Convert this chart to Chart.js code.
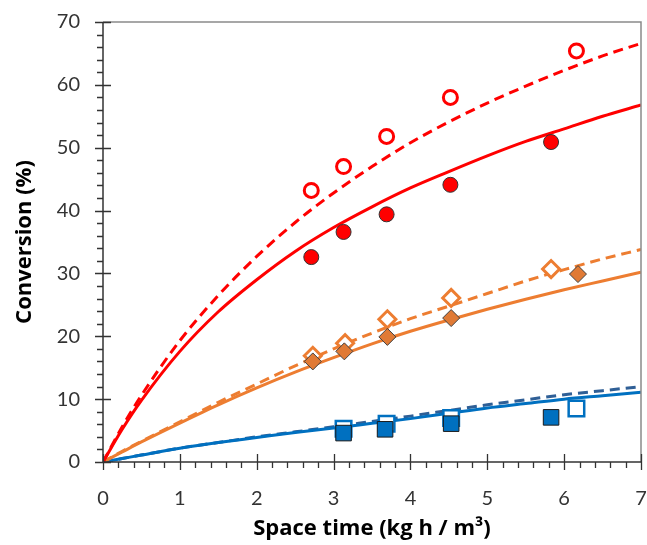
<!DOCTYPE html>
<html><head><meta charset="utf-8">
<script src="https://cdn.jsdelivr.net/npm/chart.js@4/dist/chart.umd.min.js"></script>
<style>html,body{margin:0;padding:0;background:#fff}canvas{display:block}</style>
</head><body>
<canvas id="c" width="647" height="545"></canvas>
<script>
// ---- Data ----
const xTicks = [0, 1, 2, 3, 4, 5, 6, 7];
const yTicks = [0, 10, 20, 30, 40, 50, 60, 70];

// Experimental points
const redFilledX = [2.71, 3.13, 3.69, 4.52, 5.83];
const redFilledY = [32.6, 36.6, 39.4, 44.1, 50.9];
const redOpenX = [2.71, 3.13, 3.69, 4.52, 6.16];
const redOpenY = [43.2, 47.0, 51.8, 58.0, 65.4];
const orangeFilledX = [2.73, 3.14, 3.70, 4.53, 6.18];
const orangeFilledY = [16.0, 17.6, 19.9, 22.9, 29.9];
const orangeOpenX = [2.73, 3.15, 3.70, 4.53, 5.83];
const orangeOpenY = [16.9, 18.9, 22.7, 26.1, 30.7];
const blueFilledX = [3.13, 3.67, 4.53, 5.83];
const blueFilledY = [4.6, 5.2, 6.1, 7.1];
const blueOpenX = [3.13, 3.69, 4.53, 6.16];
const blueOpenY = [5.3, 6.1, 7.0, 8.5];

// Model curves
const modelX = [0, 0.25, 0.5, 1, 1.5, 2, 2.5, 3, 3.5, 4, 4.5, 5, 5.5, 6, 6.5, 7];
const redSolidY = [0, 5.2, 9.8, 17.6, 23.9, 29.0, 33.5, 37.3, 40.6, 43.6, 46.2, 48.7, 51.0, 53.0, 55.0, 56.8];
const redDashY  = [0, 5.6, 10.6, 19.3, 26.5, 32.7, 38.1, 42.8, 47.0, 50.8, 54.1, 57.1, 59.8, 62.3, 64.6, 66.6];
const orangeSolidY = [0, 1.6, 3.2, 6.2, 9.1, 11.8, 14.3, 16.6, 18.8, 20.8, 22.6, 24.3, 25.9, 27.4, 28.8, 30.2];
const orangeDashY  = [0, 1.7, 3.3, 6.4, 9.5, 12.4, 15.3, 18.0, 20.5, 22.8, 24.8, 26.8, 28.8, 30.6, 32.3, 33.8];
const blueSolidY = [0, 0.55, 1.1, 2.2, 3.1, 3.9, 4.7, 5.4, 6.15, 6.9, 7.75, 8.6, 9.3, 10.0, 10.55, 11.1];
const blueDashY  = [0, 0.55, 1.1, 2.2, 3.1, 4.0, 4.8, 5.6, 6.45, 7.3, 8.2, 9.1, 9.9, 10.7, 11.35, 12.0];

const pts = (xs, ys) => xs.map((x, i) => ({x, y: ys[i]}));

const RED = '#FF0000', ORANGE = '#ED7D31', ORANGE_F = '#E07A35', BLUE = '#0070C0', BLUE_D = '#2F5F96';

function lineDs(ys, color, dashed, order) {
  return {type: 'line', data: pts(modelX, ys), borderColor: color, borderWidth: 3,
    borderDash: dashed ? [10, 6] : [], pointRadius: 0, fill: false,
    cubicInterpolationMode: 'monotone', order};
}
function markDs(xs, ys, style, radius, bg, border, bw, order) {
  return {type: 'scatter', data: pts(xs, ys), pointStyle: style, pointRadius: radius,
    pointBackgroundColor: bg, pointBorderColor: border, pointBorderWidth: bw,
    showLine: false, order};
}

const frame = {
  id: 'frame',
  afterDatasetsDraw(chart) {
    const {ctx, chartArea: a, scales: {x, y}} = chart;
    ctx.save();
    ctx.lineWidth = 1.5;
    ctx.strokeStyle = '#8a8a8a';
    ctx.beginPath();
    ctx.moveTo(a.left, a.top); ctx.lineTo(a.right, a.top); ctx.lineTo(a.right, a.bottom);
    ctx.stroke();
    ctx.strokeStyle = '#333';
    ctx.beginPath();
    ctx.moveTo(a.left, a.top); ctx.lineTo(a.left, a.bottom); ctx.lineTo(a.right, a.bottom);
    ctx.stroke();
    ctx.lineWidth = 1.3;
    ctx.beginPath();
    for (let v = 0; v <= 70.001; v += 2) {
      const py = Math.round(y.getPixelForValue(v)) + 0.5;
      const major = Math.abs(v % 10) < 0.01;
      ctx.moveTo(a.left - (major ? 8 : 6), py); ctx.lineTo(a.left + (major ? 8 : 0), py);
    }
    for (let i = 0; i <= 35; i++) {
      const v = i * 0.2;
      const px = Math.round(x.getPixelForValue(v)) + 0.5;
      const major = i % 5 === 0;
      ctx.moveTo(px, a.bottom + (major ? 8 : 6)); ctx.lineTo(px, a.bottom - (major ? 8 : 0));
    }
    ctx.stroke();
    ctx.restore();
  }
};

new Chart(document.getElementById('c'), {
  data: {
    datasets: [
      markDs(redFilledX, redFilledY, 'circle', 7.5, RED, '#333', 1, 1),
      markDs(orangeFilledX, orangeFilledY, 'rectRot', 8.5, ORANGE_F, '#404040', 1, 2),
      markDs(blueFilledX, blueFilledY, 'rect', 11, BLUE, '#1a1a1a', 1, 3),
      markDs(redOpenX, redOpenY, 'circle', 7, '#fff', RED, 3, 4),
      markDs(orangeOpenX, orangeOpenY, 'rectRot', 8.5, '#fff', ORANGE, 3, 5),
      markDs(blueOpenX, blueOpenY, 'rect', 11, '#fff', BLUE, 2.5, 6),
      lineDs(redSolidY, RED, false, 10),
      lineDs(redDashY, RED, true, 11),
      lineDs(orangeSolidY, ORANGE, false, 12),
      lineDs(orangeDashY, ORANGE, true, 13),
      lineDs(blueSolidY, BLUE, false, 14),
      lineDs(blueDashY, BLUE_D, true, 15)
    ]
  },
  options: {
    responsive: false, animation: false,
    layout: {autoPadding: false, padding: {top: 22, right: 6, left: 0, bottom: 0}},
    plugins: {legend: {display: false}, tooltip: {enabled: false}},
    scales: {
      x: {
        type: 'linear', min: 0, max: 7,
        afterFit: s => { s.height = 83; s.paddingLeft = 0; s.paddingRight = 0; },
        afterBuildTicks: s => { s.ticks = xTicks.map(v => ({value: v})); },
        grid: {display: false, drawTicks: false}, border: {display: false},
        ticks: {padding: 25, color: '#333', font: {family: 'Lato', size: 20}, maxRotation: 0},
        title: {display: true, text: 'Space time (kg h / m³)', color: '#000',
          font: {family: 'Open Sans', size: 22, weight: 'bold'}, padding: {top: 0, bottom: 3}}
      },
      y: {
        type: 'linear', min: 0, max: 70,
        afterFit: s => { s.width = 103; s.paddingTop = 0; s.paddingBottom = 0; },
        afterBuildTicks: s => { s.ticks = yTicks.map(v => ({value: v})); },
        grid: {display: false, drawTicks: false}, border: {display: false},
        ticks: {padding: 23, color: '#333', font: {family: 'Lato', size: 20}},
        title: {display: true, text: 'Conversion (%)', color: '#000',
          font: {family: 'Open Sans', size: 22, weight: 'bold'}, padding: {top: 12, bottom: 0}}
      }
    }
  },
  plugins: [frame]
});
</script>
</body></html>
